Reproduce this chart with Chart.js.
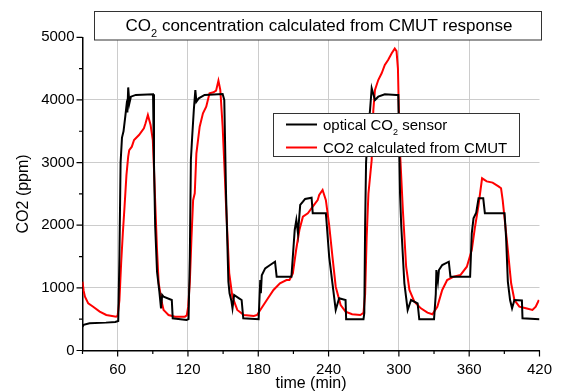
<!DOCTYPE html>
<html>
<head>
<meta charset="utf-8">
<script src="https://cdn.jsdelivr.net/npm/chart.js@4.4.1/dist/chart.umd.min.js"></script>
<style>
  html, body { margin: 0; padding: 0; background: #fff; }
</style>
</head>
<body>
<canvas id="myChart" width="562" height="392"></canvas>
<script>
// optical CO2 sensor (black)
const opticalTime = [30, 31, 36, 50, 58, 60.5, 61.5, 62.5, 63.7, 65, 66.5, 67.5, 68.3, 69, 70, 71.3, 75.5, 90.2, 91, 92, 93.6, 95.6, 97, 98, 99.2, 106.2, 107, 118.8,
  120.5, 121.6, 122.5, 123.6, 125, 126.3, 127.2, 129.2, 134.2, 149.6, 151, 152.5, 154.5, 155.5, 157, 158, 159.4, 163.6, 165.8, 167.2, 180.3,
  181.7, 182.2, 183, 185.9, 190.1, 194.3, 195.7, 208.3, 211.1, 212.5, 213.9, 215.8, 218.1, 220, 225.5, 226.5, 237.7, 238.5, 240.5, 243.3, 246.1, 249, 254.5, 255, 269.8,
  270.5, 271.2, 272, 273.5, 275.4, 276.8, 279.6, 282.4, 288, 297.8, 299.5, 301, 302, 304, 304.7, 307.5, 310.4, 316, 317.4, 330,
  331.5, 332, 333.3, 334.2, 337, 342.6, 344, 360.8, 362.2, 363.7, 366, 368, 372, 373.4, 390.2, 391.5, 393, 394.9, 396.6, 398.6, 405, 405.5, 420];
const opticalPpm = [380, 410, 435, 445, 455, 470, 1500, 3000, 3400, 3500, 3733, 3900, 3800, 4200, 3946, 4052, 4080, 4090, 3000, 2000, 1258, 939, 673, 886, 859, 806, 514, 487,
  500, 1500, 3041, 3413, 3840, 4159, 3972, 4026, 4079, 4095, 4000, 2500, 1100, 913, 800, 673, 886, 833, 806, 514, 498,
  1125, 913, 1200, 1312, 1365, 1418, 1178, 1178, 1924, 2083, 1871, 2323, 2375, 2420, 2440, 2190, 2190, 2000, 1500, 1073, 647, 833, 806, 498, 498,
  600, 2000, 3000, 3500, 3838, 4186, 3999, 4052, 4090, 4080, 4080, 2500, 2000, 1300, 1073, 647, 806, 753, 498, 498,
  900, 1285, 1100, 1285, 1365, 1418, 1178, 1178, 1871, 2110, 2200, 2430, 2430, 2190, 2190, 1800, 1100, 806, 673, 806, 800, 514, 498];

// CO2 calculated from CMUT (red)
const cmutTime = [30, 31, 32.1, 34.9, 39.1, 44.7, 50.3, 58.7, 60, 61.5, 63, 64.5, 65.7, 67.5, 69, 69.9, 72.1, 74, 78.2, 82.4, 83.8, 85.8, 88.1, 90, 91, 92.3,
  93.6, 95, 97.8, 99.2, 100.6, 103.4, 109, 117.4, 119, 120.2, 121.6, 123, 124.4, 125.8, 127.2, 130, 132.8, 135.6, 138.4, 141.8, 144, 146, 147.6, 149.6, 151.5,
  152.3, 153.8, 155.2, 157.9, 162.1, 167.7, 176.2, 179, 181.7, 187.3, 193, 198.5, 204.1, 206.6, 209.5, 212.3, 215.1, 218.1, 222.3, 226.5, 230.7, 232, 234.9,
  237.7, 240.5, 243.3, 246.1, 250.3, 254.5, 260.1, 267.1, 269.8, 271.2, 272.5, 274, 276.8, 278.2, 279.6, 282.4, 285.3, 288, 290.8, 294, 296.5, 298, 299.2, 300.6,
  303.4, 306.2, 309, 313.2, 318.8, 324.4, 328.6, 332.8, 337, 341.2, 346.8, 352.5, 358, 362.2, 365, 367.8, 371, 375, 380, 385, 387.2, 388.6, 393, 395.8, 398.6,
  402.8, 408.4, 414, 416.8, 419.5];
const cmutPpm = [1100, 950, 859, 753, 699, 620, 567, 540, 560, 800, 1400, 1900, 2243, 2800, 3094, 3200, 3254, 3360, 3440, 3547, 3627, 3760, 3600, 3360, 2900, 2243,
  1604, 1076, 757, 647, 620, 567, 540, 540, 560, 700, 1100, 1800, 2400, 2510, 3148, 3573, 3787, 3893, 4106, 4122, 4148, 4308, 4159, 3573, 2775,
  2400, 1800, 1236, 859, 647, 567, 551, 567, 647, 806, 966, 1073, 1125, 1125, 1232, 1604, 1924, 2136, 2190, 2296, 2400, 2482, 2562,
  2400, 2000, 1497, 1018, 726, 620, 578, 567, 600, 900, 1800, 2500, 3041, 3838, 4159, 4318, 4425, 4558, 4638, 4750, 4820, 4780, 4500, 3307,
  2243, 1338, 966, 779, 673, 604, 578, 699, 966, 1125, 1178, 1205, 1338, 1604, 1976, 2296, 2749, 2700, 2680, 2620, 2590, 2400, 1604, 1073, 806,
  699, 673, 647, 699, 806];

const xTicks = [60, 120, 180, 240, 300, 360, 420];
const xMinorTicks = [30, 90, 150, 210, 270, 330, 390];
const yTicks = [0, 1000, 2000, 3000, 4000, 5000];
const yMinorTicks = [500, 1500, 2500, 3500, 4500];
const seriesLabels = ["optical CO₂ sensor", "CO2 calculated from CMUT"];
const chartTitle = "CO₂ concentration calculated from CMUT response";

const FONT = "'Liberation Sans', Arial, sans-serif";

function toPoints(xs, ys) {
  return xs.map((x, i) => ({ x: x, y: ys[i] }));
}

// draws text where "₂" becomes a small lowered 2
function drawRich(ctx, text, x, y, size, align) {
  const parts = text.split("₂");
  const subSize = Math.round(size * 0.62);
  let total = 0;
  parts.forEach((p, i) => {
    ctx.font = size + "px " + FONT;
    total += ctx.measureText(p).width;
    if (i < parts.length - 1) {
      ctx.font = subSize + "px " + FONT;
      total += ctx.measureText("2").width;
    }
  });
  let cx = align === "center" ? x - total / 2 : x;
  ctx.textAlign = "left";
  ctx.textBaseline = "alphabetic";
  parts.forEach((p, i) => {
    ctx.font = size + "px " + FONT;
    ctx.fillText(p, cx, y);
    cx += ctx.measureText(p).width;
    if (i < parts.length - 1) {
      ctx.font = subSize + "px " + FONT;
      ctx.fillText("2", cx, y + size * 0.33);
      cx += ctx.measureText("2").width;
    }
  });
}

const extras = {
  id: "extras",
  afterDraw(chart) {
    const ctx = chart.ctx;
    const xs = chart.scales.x, ys = chart.scales.y;
    const area = chart.chartArea;
    ctx.save();
    ctx.strokeStyle = "#000";
    ctx.lineWidth = 1.2;
    ctx.beginPath();
    xTicks.forEach(v => { const p = xs.getPixelForValue(v); ctx.moveTo(p, area.bottom); ctx.lineTo(p, area.bottom + 6); });
    xMinorTicks.forEach(v => { const p = xs.getPixelForValue(v); ctx.moveTo(p, area.bottom); ctx.lineTo(p, area.bottom + 3.5); });
    yTicks.forEach(v => { const p = ys.getPixelForValue(v); ctx.moveTo(area.left, p); ctx.lineTo(area.left - 6, p); });
    yMinorTicks.forEach(v => { const p = ys.getPixelForValue(v); ctx.moveTo(area.left, p); ctx.lineTo(area.left - 3.5, p); });
    ctx.stroke();

    // title box
    ctx.fillStyle = "#fff";
    ctx.fillRect(94.5, 11.5, 447, 28.5);
    ctx.strokeStyle = "#333";
    ctx.lineWidth = 1;
    ctx.strokeRect(94.5, 11.5, 447, 28.5);
    ctx.fillStyle = "#000";
    drawRich(ctx, chartTitle, 319, 31, 17, "center");

    // legend box
    ctx.fillStyle = "#fff";
    ctx.fillRect(273.5, 113.5, 246, 43);
    ctx.strokeStyle = "#333";
    ctx.strokeRect(273.5, 113.5, 246, 43);
    chart.data.datasets.forEach((ds, i) => {
      const rowY = 124.5 + i * 23;
      ctx.strokeStyle = ds.borderColor;
      ctx.lineWidth = 2;
      ctx.beginPath();
      ctx.moveTo(286, rowY);
      ctx.lineTo(317, rowY);
      ctx.stroke();
      ctx.fillStyle = "#000";
      drawRich(ctx, ds.label, 323, rowY + 5.5, 15, "left");
    });
    ctx.restore();
  }
};

const ctx = document.getElementById("myChart").getContext("2d");

const config = {
  type: "line",
  data: {
    datasets: [
      {
        label: seriesLabels[0],
        data: toPoints(opticalTime, opticalPpm),
        borderColor: "#000000",
        borderWidth: 2,
        pointRadius: 0,
        tension: 0,
      },
      {
        label: seriesLabels[1],
        data: toPoints(cmutTime, cmutPpm),
        borderColor: "#ff0000",
        borderWidth: 2,
        pointRadius: 0,
        tension: 0,
      },
    ],
  },
  options: {
    responsive: false,
    animation: false,
    events: [],
    layout: { padding: { top: 37.3, right: 14.7, left: 0, bottom: 0 } },
    plugins: {
      legend: { display: false },
      title: { display: false },
      tooltip: { enabled: false },
    },
    scales: {
      x: {
        type: "linear",
        min: 30,
        max: 420,
        afterBuildTicks: (scale) => { scale.ticks = xTicks.map(v => ({ value: v })); },
        afterFit: (scale) => { scale.height = 41.5; },
        ticks: { color: "#000", font: { family: FONT, size: 15 }, padding: 10, maxRotation: 0, autoSkip: false,
          callback: (v) => String(v) },
        grid: {
          drawTicks: false,
          color: (c) => (c.tick && c.tick.value < 420 ? "#cccccc" : "transparent"),
          lineWidth: 1,
        },
        border: { color: "#000", width: 1.5 },
        title: {
          display: true,
          text: "time (min)",
          color: "#000",
          font: { family: FONT, size: 16, lineHeight: 1 },
          padding: { top: 0, bottom: 0 },
        },
      },
      y: {
        type: "linear",
        min: 0,
        max: 5000,
        afterBuildTicks: (scale) => { scale.ticks = yTicks.map(v => ({ value: v })); },
        afterFit: (scale) => { scale.width = 82.5; },
        ticks: { color: "#000", font: { family: FONT, size: 15 }, padding: 8, callback: (v) => String(v) },
        grid: {
          drawTicks: false,
          color: (c) => (c.tick && c.tick.value > 0 && c.tick.value < 5000 ? "#cccccc" : "transparent"),
          lineWidth: 1,
        },
        border: { color: "#000", width: 1.5 },
        title: {
          display: true,
          text: "CO2 (ppm)",
          color: "#000",
          font: { family: FONT, size: 16, lineHeight: 1.2 },
          padding: { top: 14, bottom: 0 },
        },
      },
    },
  },
  plugins: [extras],
};

const myChart = new Chart(ctx, config);
</script>
</body>
</html>
